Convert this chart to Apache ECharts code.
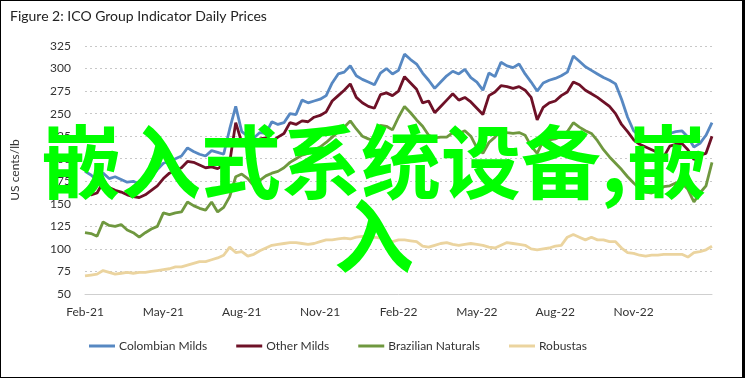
<!DOCTYPE html>
<html>
<head>
<meta charset="utf-8">
<script src="https://cdn.jsdelivr.net/npm/echarts@6/dist/echarts.min.js"></script>
<style>
  html, body { margin: 0; padding: 0; background: #fff; }
  #chart { width: 745px; height: 378px; box-sizing: border-box; border: 1px solid #000; border-right-width: 3px; }
</style>
</head>
<body>
<div id="chart"></div>
<script>
// weekly samples starting 1 Feb 2021
const startDate = '2021-02-01';
const tickLabels = ['Feb-21', 'May-21', 'Aug-21', 'Nov-21', 'Feb-22', 'May-22', 'Aug-22', 'Nov-22'];

const colombianMilds = [
  186, 182, 176, 184, 178, 180, 177, 174, 175, 172, 178, 180, 188, 195, 197, 200, 203, 212, 208, 205,
  203, 209, 207, 205, 233, 258, 230, 225, 223, 229, 228, 241, 238, 240, 250, 249, 265, 262, 264, 266,
  270, 284, 294, 296, 303, 292, 288, 285, 282, 295, 300, 294, 298, 316, 310, 305, 295, 287, 278, 285,
  292, 297, 294, 299, 290, 285, 276, 295, 291, 307, 303, 301, 305, 294, 285, 275, 284, 287, 289, 292,
  296, 314, 308, 302, 298, 294, 290, 287, 283, 266, 246, 231, 225, 219, 224, 220, 226, 228, 230, 231,
  224, 213, 217, 226, 240
];
const otherMilds = [
  163, 160, 162, 174, 168, 165, 163, 160, 158, 157, 160, 165, 170, 178, 184, 187, 190, 197, 196, 193,
  190, 191, 189, 193, 196, 240, 218, 212, 215, 222, 223, 219, 224, 228, 240, 238, 242, 241, 246, 248,
  252, 264, 270, 276, 283, 268, 262, 258, 256, 271, 273, 270, 275, 291, 284, 277, 262, 264, 251, 258,
  265, 272, 265, 268, 263, 256, 249, 270, 274, 281, 280, 278, 280, 276, 268, 243, 257, 262, 264, 270,
  274, 285, 282, 276, 272, 268, 263, 258, 250, 238, 230, 221, 216, 213, 210, 207, 202, 214, 216, 217,
  210, 199, 204, 206, 225
];
const brazilianNaturals = [
  118, 117, 114, 130, 126, 125, 127, 121, 118, 113, 118, 122, 125, 140, 138, 140, 141, 152, 148, 145,
  143, 152, 141, 146, 158, 180, 183, 178, 170, 176, 181, 184, 186, 190, 196, 200, 204, 206, 210, 213,
  218, 224, 230, 235, 242, 233, 225, 222, 220, 237, 236, 232, 246, 258, 251, 243, 236, 226, 223, 224,
  224, 229, 228, 231, 225, 212, 206, 218, 224, 231, 229, 228, 229, 226, 214, 206, 220, 221, 222, 225,
  230, 240, 235, 231, 228, 220, 210, 202, 195, 188, 180, 173, 167, 163, 162, 165, 169, 170, 173, 173,
  166, 152, 162, 170, 196
];
const robustas = [
  70, 71, 72, 76, 74, 72, 73, 74, 73, 74, 74, 75, 76, 77, 78, 80, 80, 82, 84, 86,
  86, 88, 90, 93, 102, 96, 97, 92, 94, 98, 101, 104, 105, 106, 107, 107, 106, 105, 106, 108,
  110, 110, 111, 112, 111, 113, 114, 112, 113, 112, 110, 108, 110, 110, 109, 108, 103, 102, 104, 106,
  107, 105, 104, 105, 106, 105, 104, 102, 101, 104, 107, 106, 105, 104, 100, 99, 100, 101, 103, 104,
  113, 116, 113, 110, 113, 110, 110, 108, 108, 101, 96, 95, 93, 92, 93, 93, 94, 94, 94, 94,
  91, 96, 97, 99, 103
];

const categories = [];
const d0 = new Date(startDate + 'T00:00:00Z');
for (let i = 0; i < colombianMilds.length; i++) {
  const d = new Date(d0.getTime() + i * 7 * 86400000);
  categories.push(d.toISOString().slice(0, 10));
}

const font = 'Lato, "Open Sans", sans-serif';
const chart = echarts.init(document.getElementById('chart'));

const mkSeries = (name, data, color) => ({
  name, type: 'line', data, symbol: 'none', smooth: false,
  lineStyle: { color, width: 2.8 }, itemStyle: { color }
});

chart.setOption({
  animation: false,
  title: {
    text: 'Figure 2: ICO Group Indicator Daily Prices',
    left: 4, top: 3,
    textStyle: { fontFamily: font, fontSize: 14, fontWeight: 'normal', color: '#222' }
  },
  grid: { left: 82, right: 30, top: 45, bottom: 83 },
  legend: {
    bottom: 25, left: 88, padding: 0, itemGap: 29, itemWidth: 26, itemHeight: 3,
    icon: 'rect',
    textStyle: { fontFamily: font, fontSize: 12, color: '#333', padding: [0, 0, 0, -1] },
    data: ['Colombian Milds', 'Other Milds', 'Brazilian Naturals', 'Robustas']
  },
  xAxis: {
    type: 'category', data: categories, boundaryGap: false,
    axisLine: { lineStyle: { color: '#cfcfcf' } },
    axisTick: { show: false },
    axisLabel: {
      interval: 12, margin: 12, color: '#333', fontFamily: font, fontSize: 12,
      formatter: (v, i) => tickLabels[Math.round(i / 13)] || ''
    }
  },
  yAxis: {
    type: 'value', min: 50, max: 325, interval: 25,
    name: 'US cents/lb', nameLocation: 'middle', nameGap: 64, nameRotate: 90,
    nameTextStyle: { fontFamily: font, fontSize: 12, color: '#333' },
    axisLine: { show: false }, axisTick: { show: false },
    axisLabel: { color: '#333', fontFamily: font, fontSize: 12, margin: 14 },
    splitLine: { lineStyle: { color: '#c8c8c8', type: [2, 3], width: 1 } }
  },
  graphic: [
    {
      type: 'text', left: 40, top: 121, z: 100,
      style: {
        text: '嵌入式系统设备,嵌', fill: '#00ff00',
        font: 'bold 80px "Noto Sans CJK SC", sans-serif'
      }
    },
    {
      type: 'text', left: 333, top: 195, z: 100,
      style: {
        text: '入', fill: '#00ff00',
        font: 'bold 80px "Noto Sans CJK SC", sans-serif'
      }
    }
  ],
  series: [
    mkSeries('Colombian Milds', colombianMilds, '#5788c2'),
    mkSeries('Other Milds', otherMilds, '#6e1127'),
    mkSeries('Brazilian Naturals', brazilianNaturals, '#6f983f'),
    mkSeries('Robustas', robustas, '#ebd49f')
  ]
});
</script>
</body>
</html>
